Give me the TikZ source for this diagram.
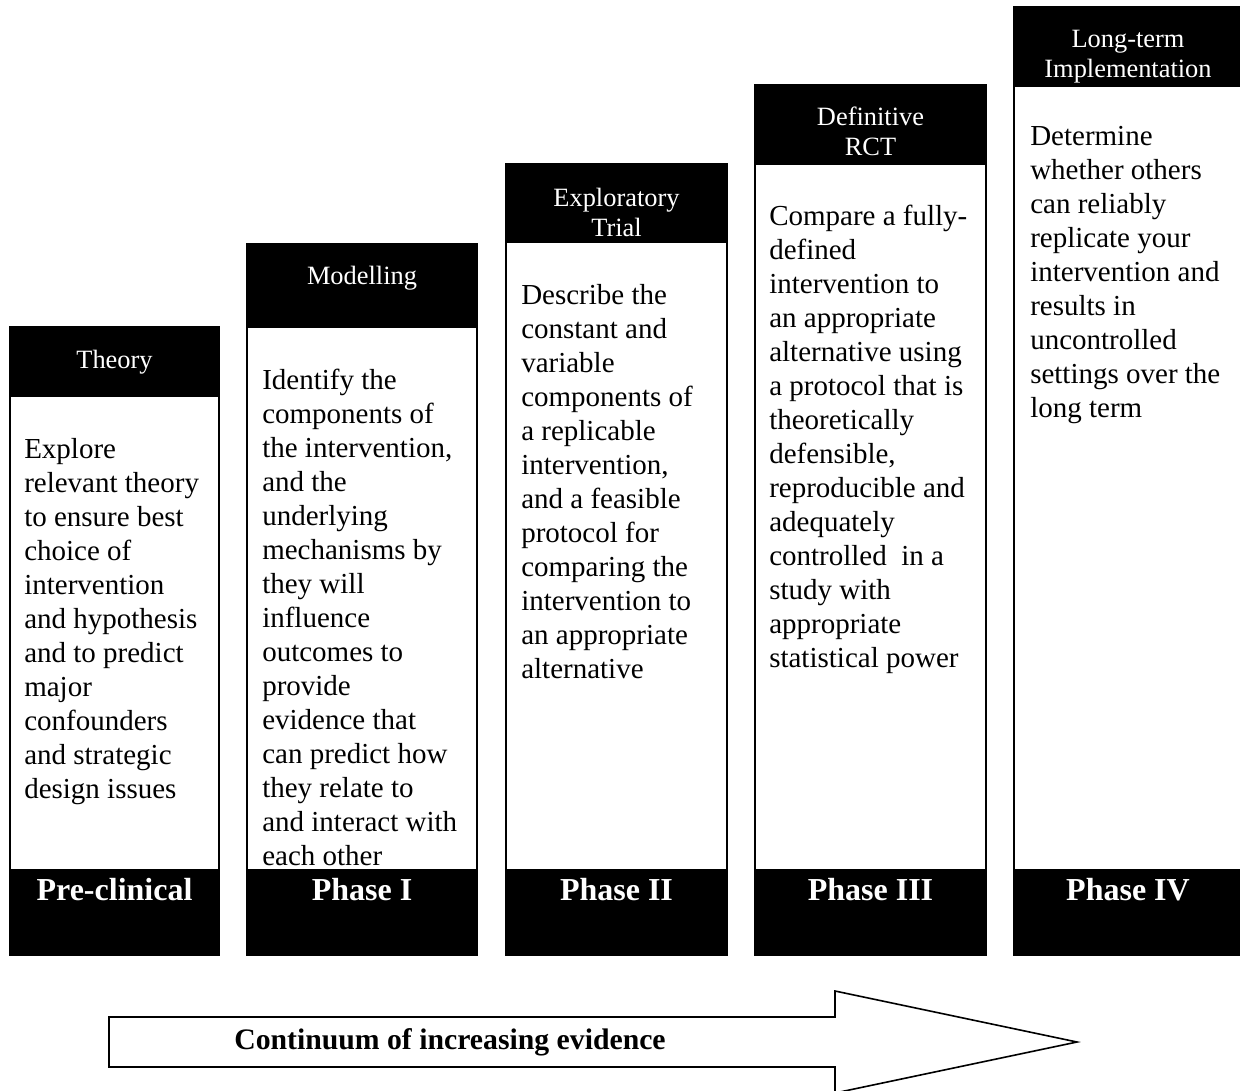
\documentclass[tikz,border=0pt]{standalone}
\usepackage{fontspec}
\setmainfont{Liberation Serif}
\usepackage{tikz}

\begin{document}
\begin{tikzpicture}[x=0.75pt, y=-0.75pt,
            colbox/.style = {draw, line width=1.5pt, fill=white},
            blackbar/.style = {fill=black},
            headtext/.style = {text=white, align=center, inner sep=0pt,
                font=\fontsize{19.8pt}{23pt}\selectfont},
            bodytext/.style = {anchor=north west, align=left, inner sep=0pt,
                font=\fontsize{21.75pt}{25.5pt}\selectfont},
            foottext/.style = {anchor=base, text=white, inner sep=0pt,
                font=\fontsize{24pt}{28pt}\selectfont\bfseries},
            bigarrow/.style = {draw, line width=1.2pt, fill=white}]
            \useasboundingbox (0,0) rectangle (1240,1090);
            % columns
            \draw[colbox] (10,327) rectangle (219,955);
            \draw[colbox] (247,244) rectangle (477,955);
            \draw[colbox] (506,164) rectangle (727,955);
            \draw[colbox] (755,85) rectangle (986,955);
            \draw[colbox] (1014,7) rectangle (1242,955);
            % headers
            \fill[blackbar] (10,327) rectangle (219,397);
            \fill[blackbar] (247,244) rectangle (477,328);
            \fill[blackbar] (506,164) rectangle (727,243);
            \fill[blackbar] (755,85) rectangle (986,165);
            \fill[blackbar] (1014,7) rectangle (1242,87);
            % footers
            \fill[blackbar] (10,869) rectangle (219,955);
            \fill[blackbar] (247,869) rectangle (477,955);
            \fill[blackbar] (506,869) rectangle (727,955);
            \fill[blackbar] (755,869) rectangle (986,955);
            \fill[blackbar] (1014,869) rectangle (1242,955);
            % header texts
            \node[headtext, anchor=base] (h1) at (114.5,368) {Theory};
            \node[headtext, anchor=base] (h2) at (362,284) {Modelling};
            \node[headtext, anchor=north] (h3) at (616.5,184.5) {\strut Exploratory\\Trial};
            \node[headtext, anchor=north] (h4) at (870.5,103.5) {\strut Definitive\\RCT};
            \node[headtext, anchor=north] (h5) at (1128,25.5) {\strut Long-term\\Implementation};
            % body texts
            \node[bodytext] (b1) at (24,434) {\strut Explore\\relevant theory\\to ensure best\\choice of\\intervention\\and hypothesis\\and to predict\\major\\confounders\\and strategic\\design issues};
            \node[bodytext] (b2) at (262,365) {\strut Identify the\\components of\\the intervention,\\and the\\underlying\\mechanisms by\\they will\\influence\\outcomes to\\provide\\evidence that\\can predict how\\they relate to\\and interact with\\each other};
            \node[bodytext] (b3) at (521,280) {\strut Describe the\\constant and\\variable\\components of\\a replicable\\intervention,\\and a feasible\\protocol for\\comparing the\\intervention to\\an appropriate\\alternative};
            \node[bodytext] (b4) at (769,201) {\strut Compare a fully-\\defined\\intervention to\\an appropriate\\alternative using\\a protocol that is\\theoretically\\defensible,\\reproducible and\\adequately\\controlled\ \ in a\\study with\\appropriate\\statistical power};
            \node[bodytext] (b5) at (1030,121) {\strut Determine\\whether others\\can reliably\\replicate your\\intervention and\\results in\\uncontrolled\\settings over the\\long term};
            % footer texts
            \node[foottext] (f1) at (114.5,900) {Pre-clinical};
            \node[foottext] (f2) at (362,900) {Phase I};
            \node[foottext] (f3) at (616.5,900) {Phase II};
            \node[foottext] (f4) at (870.5,900) {Phase III};
            \node[foottext] (f5) at (1128,900) {Phase IV};
            % evidence arrow
            \draw[bigarrow] (109,1017) -- (835,1017) -- (835,991) -- (1077,1042)
                -- (835,1093) -- (835,1067) -- (109,1067) -- cycle;
            \node[font=\fontsize{22.3pt}{26pt}\selectfont\bfseries] (cont) at (450,1042) {Continuum of increasing evidence};
        \end{tikzpicture}
\end{document}
